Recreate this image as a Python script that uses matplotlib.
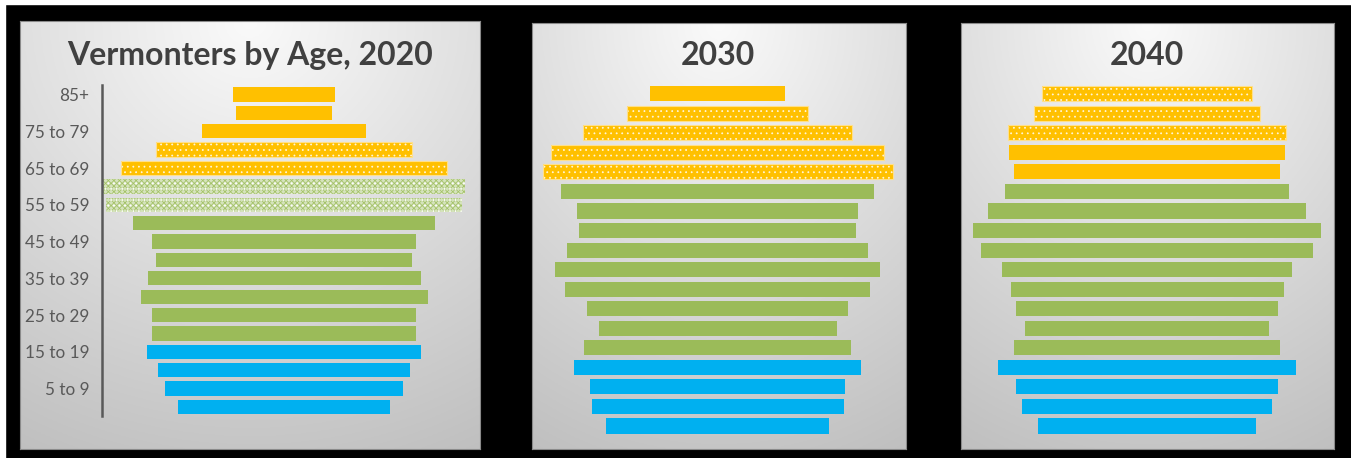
import numpy as np
import matplotlib
matplotlib.use("Agg")
import matplotlib.pyplot as plt

plt.rcParams['font.family'] = ['Lato', 'DejaVu Sans']
plt.rcParams['hatch.linewidth'] = 0.55

# ---------------- data (thousands of people, age order 0-4 ... 85+) ----------------
age_groups = ["0 to 4", "5 to 9", "10 to 14", "15 to 19", "20 to 24", "25 to 29",
              "30 to 34", "35 to 39", "40 to 44", "45 to 49", "50 to 54", "55 to 59",
              "60 to 64", "65 to 69", "70 to 74", "75 to 79", "80 to 84", "85+"]

pop_2020 = [30.4, 34.1, 36.0, 39.1, 37.7, 37.6, 41.0, 39.0, 36.6, 37.7, 43.1, 50.9,
            51.7, 46.7, 36.7, 23.3, 13.7, 14.7]
pop_2030 = [31.9, 36.0, 36.4, 41.0, 38.1, 34.0, 37.3, 43.7, 46.4, 43.1, 39.7, 40.1,
            44.7, 50.0, 47.6, 38.4, 25.9, 19.3]
pop_2040 = [31.1, 35.7, 37.4, 42.7, 38.1, 34.9, 37.3, 39.0, 41.4, 47.3, 49.7, 45.3,
            40.6, 38.1, 39.3, 39.6, 32.4, 30.0]

# colour group per bar: child / working / senior
group = ["child"] * 4 + ["adult"] * 9 + ["senior"] * 5
# baby-boomer cohort highlighting per panel (1 = patterned)
boom_2020 = [0] * 11 + [1, 1, 1, 1] + [0, 0, 0]
boom_2030 = [0] * 13 + [1, 1, 1, 1] + [0]
boom_2040 = [0] * 15 + [1, 1, 1]

titles = ["Vermonters by Age, 2020", "2030", "2040"]

colors = {"child": "#00B0F0", "adult": "#9BBB59", "senior": "#FFC000"}

W, H = 1351, 458
fig = plt.figure(figsize=(W / 100, H / 100), dpi=100, facecolor='black')

def rect(l, t, r, b):
    return [l / W, 1 - b / H, (r - l) / W, (b - t) / H]

# thin white strips at top / left of the image
fig.patches.append(plt.Rectangle((0, 1 - 4 / H), 1, 4 / H, transform=fig.transFigure,
                                 color='white', zorder=0))
fig.patches.append(plt.Rectangle((0, 0), 5 / W, 1, transform=fig.transFigure,
                                 color='white', zorder=0))

panels = [
    dict(box=(20, 21, 479.5, 448.5), plot=(101.7, 85.3, 472, 416.2), cx=284,
         vals=pop_2020, boom=boom_2020, title=titles[0], tx=250, labels=True),
    dict(box=(531.7, 22.5, 905.7, 448.5), plot=(536, 83.9, 900, 435.8), cx=717.5,
         vals=pop_2030, boom=boom_2030, title=titles[1], tx=718, labels=False),
    dict(box=(960.7, 22.5, 1334.3, 448.5), plot=(965, 83.9, 1330, 435.8), cx=1147,
         vals=pop_2040, boom=boom_2040, title=titles[2], tx=1147, labels=False),
]

# gradient image
gy, gx = np.mgrid[0:1:200j, 0:1:200j]
d = np.sqrt((gx - 0.5) ** 2 + (gy * 1.0) ** 2)
g = 0.98 - (0.98 - 0.75) * np.clip(d / 1.12, 0, 1)
grad = np.dstack([g, g, g])

PXU = 7.0  # pixels per thousand
y = np.arange(len(age_groups))

for p in panels:
    l, t, r, b = p["box"]
    axb = fig.add_axes(rect(l, t, r, b), zorder=0)
    axb.imshow(grad, extent=[0, 1, 0, 1], aspect='auto', origin='upper')
    axb.set_xticks([]); axb.set_yticks([])
    for s in axb.spines.values():
        s.set_color('#8a8a8a'); s.set_linewidth(0.8)

    pl, pt, pr, pb = p["plot"]
    ax = fig.add_axes(rect(pl, pt, pr, pb), zorder=1)
    ax.set_facecolor('none')
    ax.set_xlim((pl - p["cx"]) / PXU, (pr - p["cx"]) / PXU)
    ax.set_ylim(-0.5, len(age_groups) - 0.5)

    vals = np.array(p["vals"])
    hgt = 0.78 if p["labels"] else 0.77
    for i, v in enumerate(vals):
        c = colors[group[i]]
        patterned = p["boom"][i] == 1
        if patterned and group[i] == "adult":
            ax.barh(i, v, left=-v / 2, height=hgt, color='#d5e3bc',
                    edgecolor='#a3c166', hatch='xxxxxx', linewidth=0)
            ax.barh(i, v, left=-v / 2, height=hgt, facecolor='none',
                    edgecolor='white', hatch='...', linewidth=0)
        elif patterned:
            ax.barh(i, v, left=-v / 2, height=hgt, color=c,
                    edgecolor='#fff6dc', hatch='...', linewidth=0)
            ax.barh(i, v, left=-v / 2, height=hgt, facecolor='none',
                    edgecolor='#ffe08a', linewidth=0.8)
        else:
            ax.barh(i, v, left=-v / 2, height=hgt, color=c, linewidth=0)

    ax.set_xticks([])
    for s in ['top', 'right', 'bottom']:
        ax.spines[s].set_visible(False)
    if p["labels"]:
        ax.spines['left'].set_color('#595959')
        ax.spines['left'].set_linewidth(1.8)
        ax.set_yticks(y)
        ax.set_yticklabels([lab if (i % 2 == 1) else "" for i, lab in enumerate(age_groups)],
                           fontsize=12.3, color='#595959')
        ax.tick_params(axis='y', length=0, pad=9)
    else:
        ax.spines['left'].set_visible(False)
        ax.set_yticks([])

    fig.text(p["tx"] / W, 1 - 65 / H, p["title"], ha='center', va='baseline',
             fontsize=23, fontweight='bold', color='#404040')

fig.savefig("out.png", dpi=100, facecolor='black')
